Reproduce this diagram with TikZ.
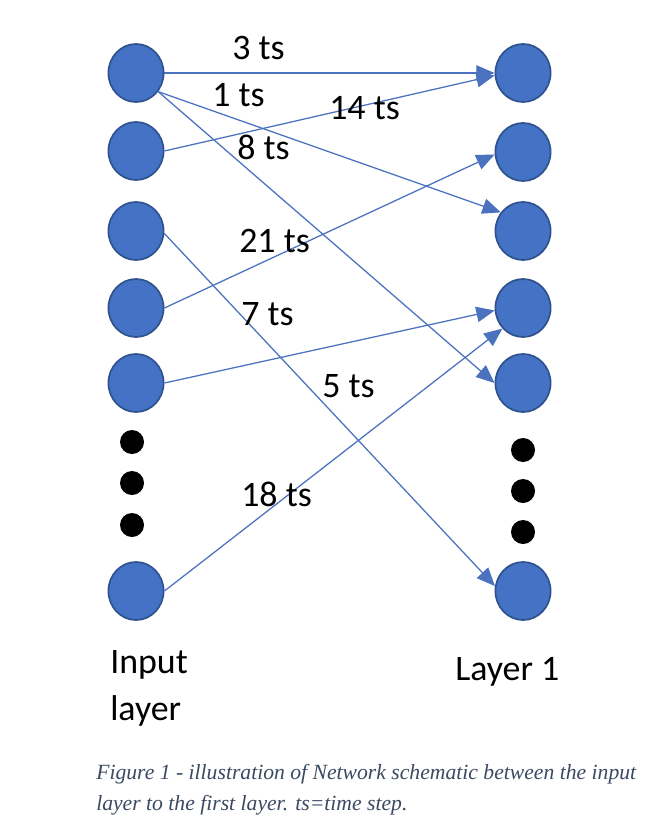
\documentclass[tikz,border=0pt]{standalone}
\usepackage{fontspec}
\setmainfont{Carlito}
\newfontfamily\capfont{Liberation Serif}
\usetikzlibrary{arrows.meta,shapes.geometric}
\definecolor{neuronblue}{HTML}{4472C4}
\definecolor{neuronedge}{HTML}{2F528F}
\definecolor{linkblue}{HTML}{4A72BE}
\definecolor{captiongray}{HTML}{3B4A63}

\begin{document}
\begin{tikzpicture}[x=0.025cm,y=-0.025cm,
    neuron/.style={ellipse, draw=neuronedge, line width=1.2pt, fill=neuronblue,
        minimum width=1.38cm, minimum height=1.45cm, inner sep=0pt},
    skipdot/.style={circle, fill=black, minimum size=0.6cm, inner sep=0pt},
    link/.style={draw=linkblue, line width=0.9pt, -{Triangle[length=13pt,width=11pt]}},
    delay/.style={anchor=base west, inner sep=0pt, font=\fontsize{25.5}{30}\selectfont},
    caption/.style={anchor=base west, inner sep=0pt, text=captiongray,
        font=\capfont\itshape\fontsize{15.4}{19}\selectfont}]
    \useasboundingbox[fill=white] (0,0) rectangle (652,826);

    % Input layer
    \node[neuron] (in1) at (136,73) {};
    \node[neuron] (in2) at (136,151) {};
    \node[neuron] (in3) at (136,231) {};
    \node[neuron] (in4) at (136,308) {};
    \node[neuron] (in5) at (136,383) {};
    \node[skipdot] (indot1) at (132,442) {};
    \node[skipdot] (indot2) at (132,483) {};
    \node[skipdot] (indot3) at (132,525) {};
    \node[neuron] (inN) at (136,591) {};

    % Layer 1
    \node[neuron] (out1) at (523,73) {};
    \node[neuron] (out2) at (523,152) {};
    \node[neuron] (out3) at (523,231) {};
    \node[neuron] (out4) at (523,308) {};
    \node[neuron] (out5) at (523,383) {};
    \node[skipdot] (outdot1) at (523,450) {};
    \node[skipdot] (outdot2) at (523,491) {};
    \node[skipdot] (outdot3) at (523,532) {};
    \node[neuron] (outN) at (523,591) {};

    % Connections
    \draw[link] (in1.east) -- (out1.west);
    \draw[link] (in2.east) -- (out1.185);
    \draw[link] (in1.-40) -- (out3.140);
    \draw[link] (in1.-40) -- (out5.west);
    \draw[link] (in4.east) -- (out2.185);
    \draw[link] (in3.-5) -- (outN.170);
    \draw[link] (in5.east) -- (out4.185);
    \draw[link] (inN.east) -- (out4.225);

    % Delays
    \node[delay] (d3) at (232,60) {3 ts};
    \node[delay] (d1) at (212,107) {1 ts};
    \node[delay] (d14) at (329,120) {14 ts};
    \node[delay] (d8) at (237,160) {8 ts};
    \node[delay] (d21) at (239,253) {21 ts};
    \node[delay] (d7) at (241,325) {7 ts};
    \node[delay] (d5) at (322,397) {5 ts};
    \node[delay] (d18) at (241,506) {18 ts};

    % Layer names
    \node[delay] (inname1) at (110,673) {Input};
    \node[delay] (inname2) at (110,720) {layer};
    \node[delay] (outname) at (455,680) {Layer 1};

    % Caption
    \node[caption] (cap1) at (96,779) {Figure 1 - illustration of Network schematic between the input};
    \node[caption] (cap2) at (96,810) {layer to the first layer. ts=time step.};
\end{tikzpicture}
\end{document}
